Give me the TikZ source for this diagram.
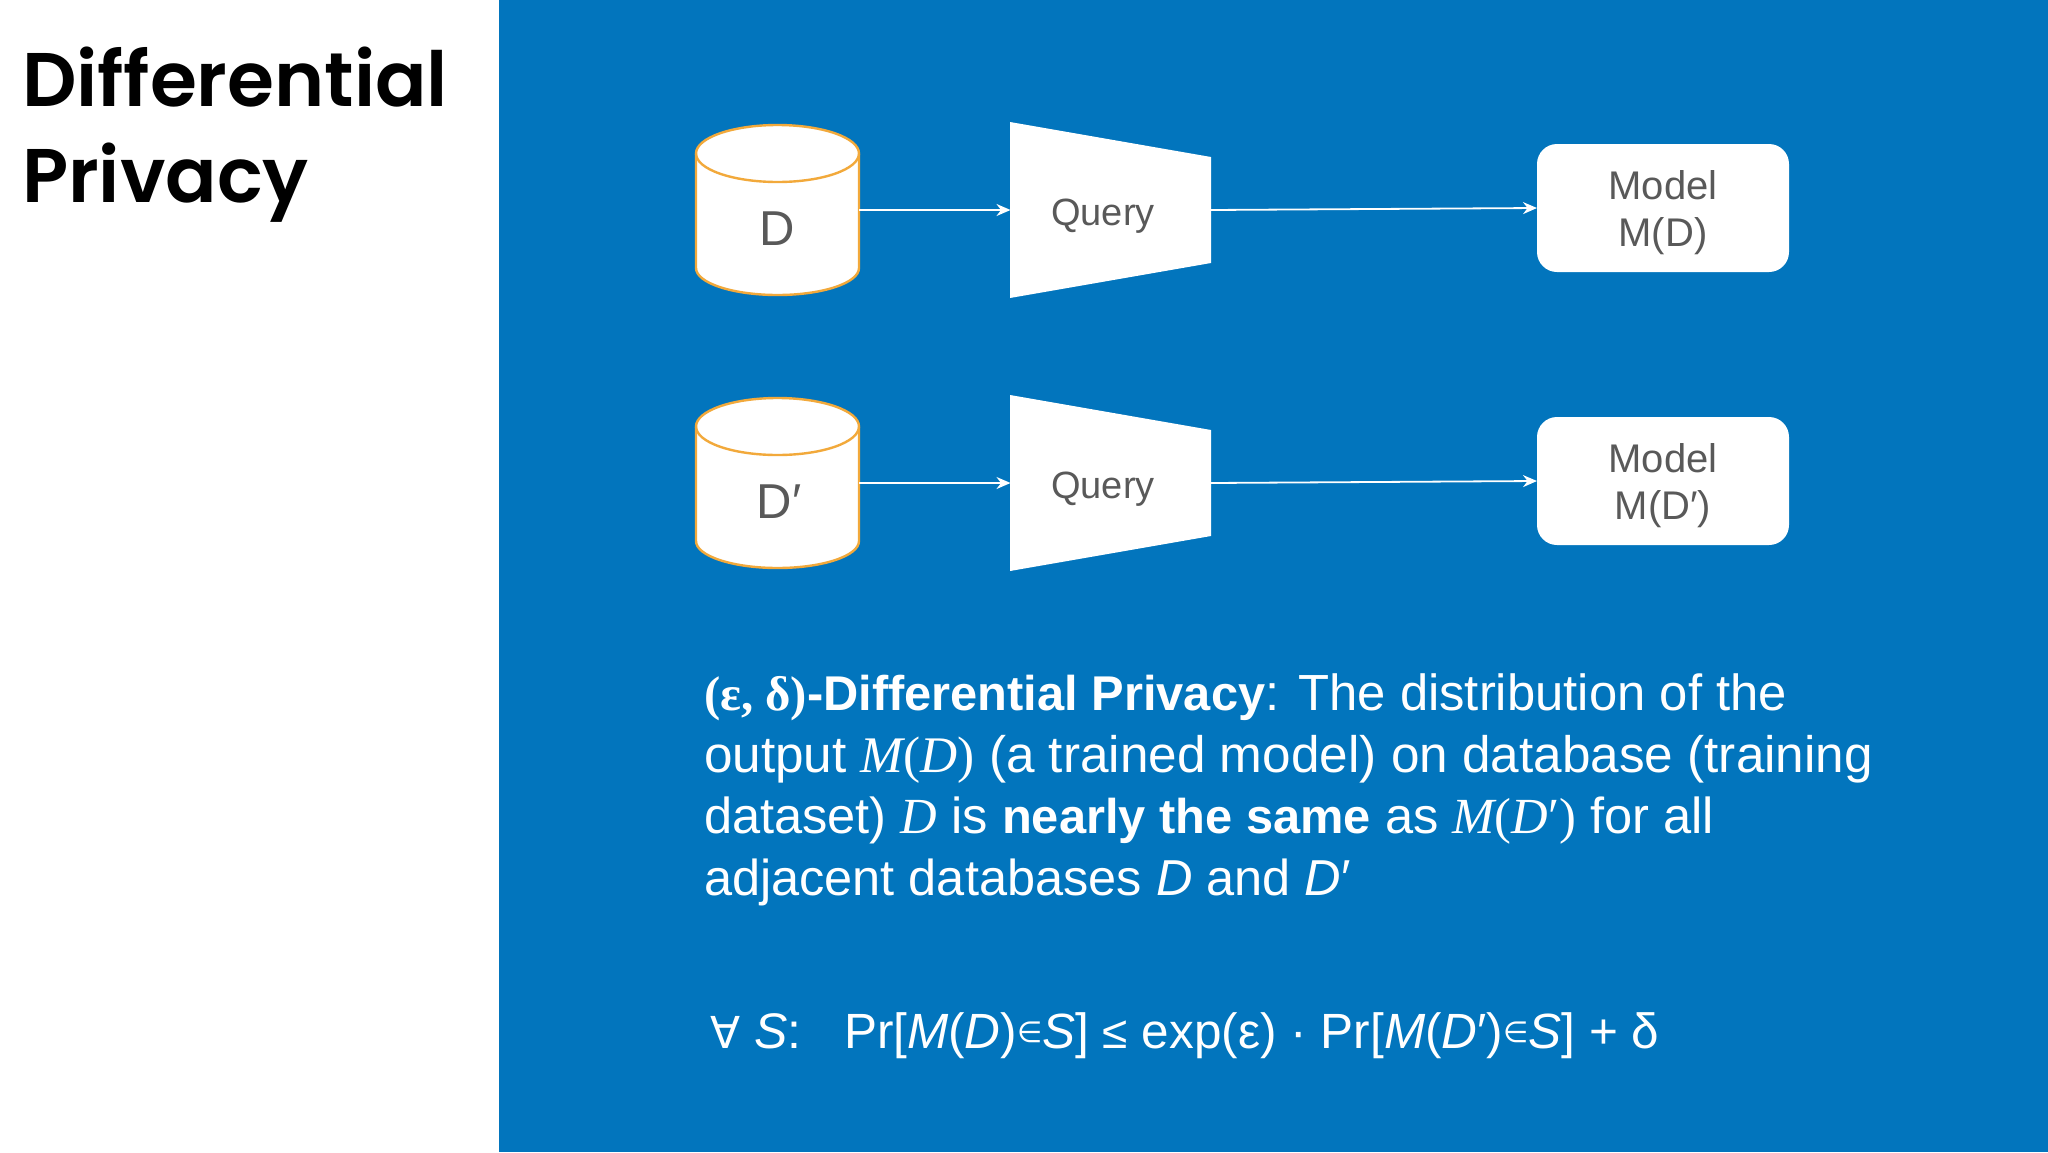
\documentclass[tikz,border=0pt]{standalone}
\usepackage{fontspec}
\setmainfont{Liberation Sans}
\newfontfamily\serifx{Liberation Serif}
\newfontfamily\titlefont{Poppins SemiBold}
\newfontfamily\symfont{DejaVu Sans}
\usetikzlibrary{arrows.meta}
\definecolor{panel}{HTML}{0275BD}
\definecolor{cyl}{HTML}{F2A93B}
\definecolor{lab}{HTML}{595959}
\newcommand{\fs}[1]{\fontsize{#1}{62}\selectfont}
\newcommand{\bld}[1]{{\fontsize{48.8}{62}\selectfont\bfseries #1}}
\tikzset{
  anch/.style={inner sep=0pt,outer sep=0pt,draw=none,rectangle},
  linel/.style={anch,anchor=base west,text=white},
  lab/.style={anch,text=lab},
  conn/.style={draw=white,line width=1.8pt,-{Stealth[length=14pt,width=12pt]}},
  title/.style={anch,anchor=base west,text=black,font=\titlefont\fontsize{76}{90}\selectfont},
  modelbox/.style={anch,fill=white,rounded corners=20pt,minimum width=252pt,minimum height=128pt},
  modeltext/.style={anch,align=center,text=lab,font=\fontsize{40}{47}\selectfont},
  dbbox/.style={anch,minimum width=163pt,minimum height=170pt},
  qbox/.style={anch,minimum width=200pt,minimum height=176pt},
  cylstyle/.style={fill=white,draw=cyl,line width=2.4pt},
}
\newcommand{\dbshape}[1]{% #1 = vertical offset
  \begin{scope}[yshift=#1]
    \path[cylstyle] (696,-153.5) -- (696,-268)
      arc[start angle=180,end angle=360,x radius=81.5,y radius=27] -- (859,-153.5)
      arc[start angle=0,end angle=180,x radius=81.5,y radius=28.5] -- cycle;
    \draw[cyl,line width=2.4pt] (696,-153.5) arc[start angle=180,end angle=360,x radius=81.5,y radius=28.5];
  \end{scope}}
\newcommand{\qshape}[1]{%
  \begin{scope}[yshift=#1]
    \fill[white] (1010,-122) -- (1211,-157) -- (1211,-263) -- (1010,-298) -- cycle;
  \end{scope}}
\newcommand{\mth}[1]{{\serifx\itshape #1}}
\newcommand{\smallin}{\raisebox{6pt}{\symfont\fontsize{29}{29}\selectfont ∈}}
\begin{document}
\begin{tikzpicture}[x=1pt,y=1pt]
\useasboundingbox (0,0) rectangle (2048,-1152);
\fill[white] (0,0) rectangle (2048,-1152);
\fill[panel] (499,0) rectangle (2048,-1152);

\node[title] (t1) at (22,-106) {Differential};
\node[title] (t2) at (22,-202) {Privacy};

\dbshape{0pt}
\dbshape{-273pt}
\qshape{0pt}
\qshape{-273pt}

\node[dbbox] (db1) at (777.5,-210) {};
\node[dbbox] (db2) at (777.5,-483) {};
\node[qbox] (q1) at (1110.5,-210) {};
\node[qbox] (q2) at (1110.5,-483) {};
\node[modelbox] (m1) at (1663,-208) {};
\node[modelbox] (m2) at (1663,-481) {};
\node[modeltext] (mt1) at ([yshift=-5pt]m1.center) {Model\\M(D)};
\node[modeltext] (mt2) at ([yshift=-5pt]m2.center) {Model\\M(D′)};

\node[lab,anchor=base,font=\fontsize{49}{49}\selectfont] (dl1) at (777.5,-245) {D};
\node[lab,anchor=base,font=\fontsize{49}{49}\selectfont] (dl2) at (779,-518) {D′};
\node[lab,anchor=base,font=\fontsize{38}{38}\selectfont] (ql1) at (1103,-225) {Query};
\node[lab,anchor=base,font=\fontsize{38}{38}\selectfont] (ql2) at (1103,-498) {Query};

\draw[conn] (db1.east) -- (q1.west);
\draw[conn] (db2.east) -- (q2.west);
\draw[conn] (q1.east) -- (m1.west);
\draw[conn] (q2.east) -- (m2.west);

\node[linel,font=\fs{50.8}] (l1) at (704,-710) {\bld{{\serifx (ε, δ)}-Differential Privacy}: The distribution of the};
\node[linel,font=\fs{51.3}] (l2) at (704,-772) {output {\mth{M}\serifx(\mth{D})} (a trained model) on database (training};
\node[linel,font=\fs{50.6}] (l3) at (704,-833) {dataset) \mth{D} is \bld{nearly the same} as {\mth{M}\serifx(\mth{D}′)} for all};
\node[linel,font=\fs{50.5}] (l4) at (704,-895) {adjacent databases \textit{D} and \textit{D}′};

\node[linel,font=\fs{50}] (f1) at (710,-1048) {{\symfont\fontsize{44}{44}\selectfont ∀}};
\node[linel,font=\fs{50}] (f2) at (754,-1048) {\textit{S}:};
\node[linel,font=\fs{49.5}] (f3) at (844,-1048) {Pr[\textit{M}(\textit{D})\smallin\textit{S}] {\fontsize{46}{46}\selectfont ≤} exp(ε) · Pr[\textit{M}(\textit{D}′)\smallin\textit{S}] + δ};
\end{tikzpicture}
\end{document}
